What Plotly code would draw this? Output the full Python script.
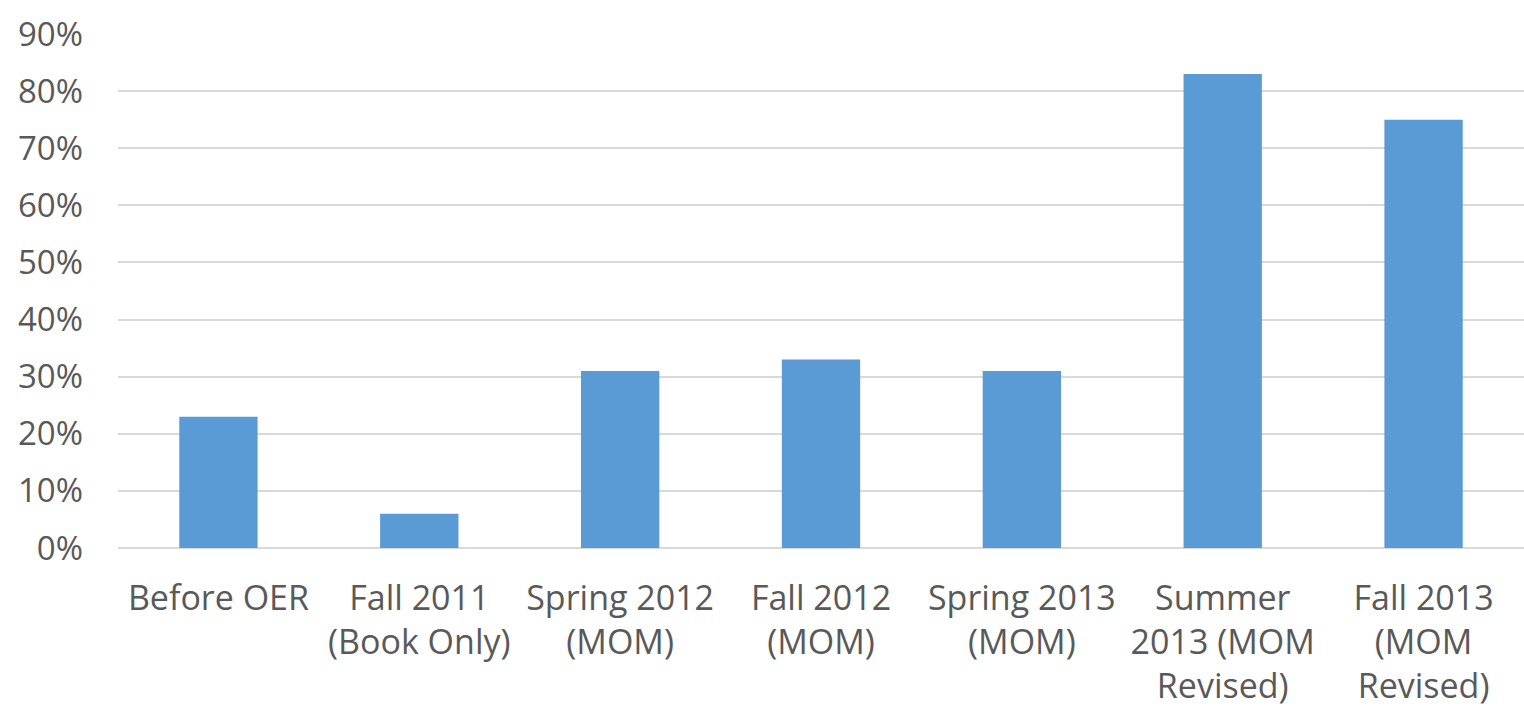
import plotly.graph_objects as go

categories = [
    "Before OER",
    "Fall 2011<br>(Book Only)",
    "Spring 2012<br>(MOM)",
    "Fall 2012<br>(MOM)",
    "Spring 2013<br>(MOM)",
    "Summer<br>2013 (MOM<br>Revised)",
    "Fall 2013<br>(MOM<br>Revised)",
]
values = [0.23, 0.06, 0.31, 0.33, 0.31, 0.83, 0.75]
tick_vals = [0, 0.1, 0.2, 0.3, 0.4, 0.5, 0.6, 0.7, 0.8, 0.9]
tick_text = ["0%", "10%", "20%", "30%", "40%", "50%", "60%", "70%", "80%", "90%"]

font_family = "Open Sans, sans-serif"

fig = go.Figure(
    go.Bar(x=categories, y=values, marker=dict(color="#5b9bd5", line=dict(width=0)))
)
fig.update_layout(
    width=1524,
    height=712,
    margin=dict(l=118, r=0, t=34, b=164),
    paper_bgcolor="white",
    plot_bgcolor="white",
    bargap=0.61,
    showlegend=False,
    font=dict(family=font_family, size=34, color="#595959"),
)
fig.update_yaxes(
    range=[0, 0.9],
    tickvals=tick_vals,
    ticktext=tick_text,
    showgrid=True,
    gridcolor="#d9d9d9",
    gridwidth=2,
    zeroline=True,
    zerolinecolor="#d9d9d9",
    zerolinewidth=2,
    ticklabelstandoff=34,
    automargin=False,
    tickfont=dict(size=33, color="#595959"),
)
fig.update_xaxes(
    showgrid=False,
    ticks="",
    automargin=False,
    tickfont=dict(size=34, color="#595959"),
    ticklabelstandoff=27,
)
fig.write_html(
    "out.html",
    config={"displayModeBar": False},
    post_script="document.body.style.margin='0';document.body.style.overflow='hidden';",
)
